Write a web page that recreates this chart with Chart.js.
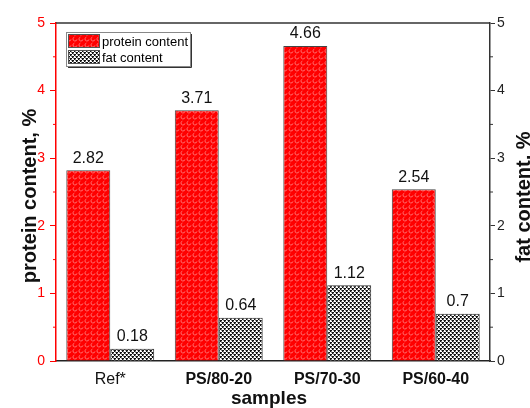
<!DOCTYPE html>
<html lang="en">
<head>
    <meta charset="UTF-8">
    <title>Protein and fat content</title>
    <script src="https://cdn.jsdelivr.net/npm/chart.js"></script>
    <style>
        html, body { margin: 0; padding: 0; background: #fff; }
        #wrap { width: 530px; height: 408px; }
    </style>
</head>
<body>
    <div id="wrap"><canvas id="contentChart" width="530" height="408"></canvas></div>

    <script>
        // data
        const samples = ['Ref*', 'PS/80-20', 'PS/70-30', 'PS/60-40'];
        const proteinContent = [2.82, 3.71, 4.66, 2.54];
        const fatContent = [0.18, 0.64, 1.12, 0.7];
        const yTicks = [0, 1, 2, 3, 4, 5];

        const FONT = "'Liberation Sans', Arial, sans-serif";

        // red hatch with light curls
        function redPattern() {
            const c = document.createElement('canvas');
            c.width = 6; c.height = 6;
            const g = c.getContext('2d');
            g.fillStyle = '#ff0000';
            g.fillRect(0, 0, 6, 6);
            g.strokeStyle = 'rgba(255,150,150,0.9)';
            g.lineWidth = 0.8;
            g.beginPath();
            g.arc(3, 3, 2, 0.2, Math.PI * 1.4);
            g.stroke();
            return g.createPattern(c, 'repeat');
        }

        // black/white checker
        function checkPattern() {
            const c = document.createElement('canvas');
            c.width = 4; c.height = 4;
            const g = c.getContext('2d');
            g.fillStyle = '#ffffff';
            g.fillRect(0, 0, 4, 4);
            g.fillStyle = '#111';
            g.fillRect(0, 0, 2, 1);
            g.fillRect(0, 1, 1, 1);
            g.fillRect(2, 2, 2, 1);
            g.fillRect(2, 3, 1, 1);
            g.fillStyle = '#8a8a8a';
            g.fillRect(1, 1, 1, 1);
            g.fillRect(3, 3, 1, 1);
            g.fillRect(3, 0, 1, 1);
            g.fillRect(1, 2, 1, 1);
            return g.createPattern(c, 'repeat');
        }

        const proteinFill = redPattern();
        const fatFill = checkPattern();

        const isMajor = v => yTicks.includes(v);

        // value labels, legend, titles, minor ticks, top frame
        const extras = {
            id: 'extras',
            afterDatasetsDraw(chart) {
                const ctx = chart.ctx;
                ctx.save();
                ctx.font = '16px ' + FONT;
                ctx.fillStyle = '#111';
                ctx.textAlign = 'center';
                ctx.textBaseline = 'bottom';
                chart.data.datasets.forEach((ds, i) => {
                    chart.getDatasetMeta(i).data.forEach((bar, j) => {
                        ctx.fillText(String(ds.data[j]), bar.x, bar.y - 4);
                    });
                });
                ctx.restore();
            },
            afterDraw(chart) {
                const ctx = chart.ctx;
                const a = chart.chartArea;
                ctx.save();

                // top frame line
                ctx.strokeStyle = '#333';
                ctx.lineWidth = 1.5;
                ctx.beginPath();
                ctx.moveTo(a.left, a.top);
                ctx.lineTo(a.right, a.top);
                ctx.stroke();

                // minor ticks
                const yl = chart.scales.y, yr = chart.scales.y1;
                for (let v = 0.5; v < 5; v += 1) {
                    let p = yl.getPixelForValue(v);
                    ctx.strokeStyle = '#ff0000';
                    ctx.lineWidth = 1;
                    ctx.beginPath();
                    ctx.moveTo(a.left - 3, p); ctx.lineTo(a.left, p);
                    ctx.stroke();
                    p = yr.getPixelForValue(v);
                    ctx.strokeStyle = '#333';
                    ctx.beginPath();
                    ctx.moveTo(a.right, p); ctx.lineTo(a.right + 3, p);
                    ctx.stroke();
                }

                // legend box
                const lx = 66, ly = 32, lw = 124, lh = 34;
                ctx.fillStyle = '#fff';
                ctx.fillRect(lx, ly, lw, lh);
                ctx.strokeStyle = '#888';
                ctx.lineWidth = 1;
                ctx.strokeRect(lx + 0.5, ly + 0.5, lw, lh);
                ctx.strokeStyle = '#333';
                ctx.beginPath();
                ctx.moveTo(lx + lw + 1.5, ly + 2); ctx.lineTo(lx + lw + 1.5, ly + lh + 1.5);
                ctx.lineTo(lx + 2, ly + lh + 1.5);
                ctx.stroke();
                const entries = [[proteinFill, 'protein content', 34], [fatFill, 'fat content', 50]];
                ctx.font = '13px ' + FONT;
                ctx.textAlign = 'left';
                ctx.textBaseline = 'middle';
                entries.forEach(([fill, text, y]) => {
                    ctx.fillStyle = fill;
                    ctx.fillRect(68, y, 31, 13);
                    ctx.strokeStyle = '#555';
                    ctx.strokeRect(68.5, y + 0.5, 31, 13);
                    ctx.fillStyle = '#000';
                    ctx.fillText(text, 102, y + 8);
                });

                // axis titles
                ctx.fillStyle = '#111';
                ctx.font = 'bold 19px ' + FONT;
                ctx.textAlign = 'center';
                ctx.textBaseline = 'middle';
                ctx.fillText('samples', 269, 399);

                ctx.font = 'bold 20px ' + FONT;
                ctx.textBaseline = 'alphabetic';
                ctx.save();
                ctx.translate(36, 196);
                ctx.rotate(-Math.PI / 2);
                ctx.fillText('protein content, %', 0, 0);
                ctx.restore();
                ctx.save();
                ctx.translate(530, 197);
                ctx.rotate(-Math.PI / 2);
                ctx.fillText('fat content, %', 0, 0);
                ctx.restore();

                ctx.restore();
            }
        };

        const ctx = document.getElementById('contentChart').getContext('2d');
        new Chart(ctx, {
            type: 'bar',
            data: {
                labels: samples,
                datasets: [{
                    label: 'protein content',
                    data: proteinContent,
                    yAxisID: 'y',
                    backgroundColor: proteinFill,
                    borderColor: '#444',
                    borderWidth: 1
                }, {
                    label: 'fat content',
                    data: fatContent,
                    yAxisID: 'y1',
                    backgroundColor: fatFill,
                    borderColor: '#333',
                    borderWidth: 1
                }]
            },
            options: {
                responsive: false,
                animation: false,
                devicePixelRatio: 1,
                layout: { padding: { top: 23, left: 0, right: 0, bottom: 0 } },
                datasets: { bar: { categoryPercentage: 0.81, barPercentage: 1.0 } },
                plugins: { legend: { display: false }, tooltip: { enabled: false } },
                scales: {
                    x: {
                        grid: { display: false, drawTicks: false },
                        border: { color: '#222', width: 1.5 },
                        ticks: {
                            color: '#111',
                            padding: 9,
                            font: c => ({ family: FONT, size: 16, weight: c.index === 0 ? 'normal' : 'bold' })
                        },
                        afterFit: s => { s.height = 47; }
                    },
                    y: {
                        position: 'left',
                        min: 0, max: 5,
                        border: { color: '#ff0000', width: 1.5 },
                        grid: {
                            drawOnChartArea: false,
                            tickLength: 6,
                            tickColor: c => isMajor(c.tick.value) ? '#ff0000' : 'rgba(0,0,0,0)'
                        },
                        ticks: {
                            stepSize: 0.5,
                            color: '#ff0000',
                            padding: 5,
                            font: { family: FONT, size: 14 },
                            callback: v => isMajor(v) ? String(v) : ''
                        },
                        afterFit: s => { s.width = 56; }
                    },
                    y1: {
                        position: 'right',
                        min: 0, max: 5,
                        border: { color: '#333', width: 1.5 },
                        grid: {
                            drawOnChartArea: false,
                            tickLength: 5,
                            tickColor: c => isMajor(c.tick.value) ? '#333' : 'rgba(0,0,0,0)'
                        },
                        ticks: {
                            stepSize: 0.5,
                            color: '#222',
                            padding: 2,
                            font: { family: FONT, size: 14 },
                            callback: v => isMajor(v) ? String(v) : ''
                        },
                        afterFit: s => { s.width = 40; }
                    }
                }
            },
            plugins: [extras]
        });
    </script>
</body>
</html>
